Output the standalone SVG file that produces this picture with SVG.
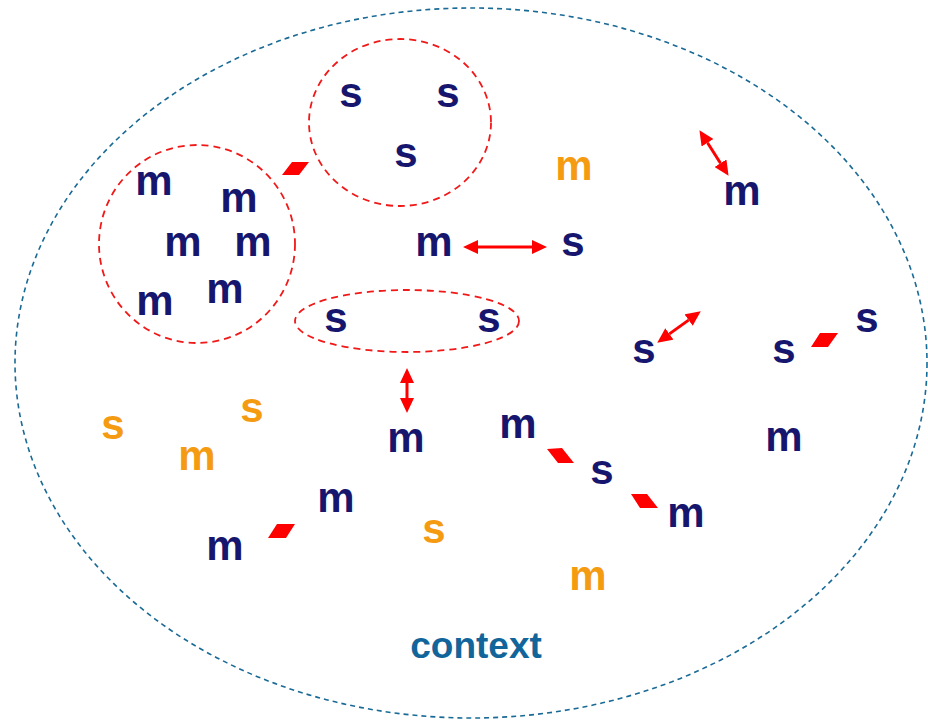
<svg xmlns="http://www.w3.org/2000/svg" width="928" height="720" viewBox="0 0 928 720">
  <style>
    text { font-family: "Liberation Sans", Arial, sans-serif; font-weight: bold; text-anchor: middle; }
    .lbl { font-size: 42px; fill: #16166e; }
    .alt { font-size: 42px; fill: #f59b12; }
    .ctx { font-size: 37px; fill: #11659a; }
    .outer { fill: none; stroke: #1a6a96; stroke-width: 1.6; stroke-dasharray: 5 4; }
    .group { fill: none; stroke: #f01818; stroke-width: 1.8; stroke-dasharray: 7 5; }
    .link { fill: #ff0000; stroke: none; }
    .arrow { stroke: #ff0000; stroke-width: 3; fill: none; marker-start: url(#head); marker-end: url(#head); }
  </style>
  <defs>
    <marker id="head" viewBox="0 0 15 14" refX="0" refY="7" markerWidth="15" markerHeight="14" markerUnits="userSpaceOnUse" orient="auto-start-reverse">
      <path d="M0,0 L15,7 L0,14 Z" fill="#ff0000"/>
    </marker>
  </defs>

  <!-- context boundary -->
  <ellipse class="outer" cx="471" cy="363" rx="456" ry="355"/>

  <!-- groupings -->
  <g id="group-s3">
    <ellipse class="group" cx="400" cy="122.5" rx="91" ry="83.5"/>
  </g>
  <g id="group-m6">
    <ellipse class="group" cx="197" cy="244" rx="98" ry="99"/>
  </g>
  <g id="group-s2">
    <ellipse class="group" cx="407" cy="321" rx="112" ry="31"/>
  </g>

  <!-- connectors -->
  <g id="connectors">
    <polygon class="link" points="282,175 292,162 309,162 299,175"/>
    <polygon class="link" points="811,347 820,333 838,333 828,347"/>
    <polygon class="link" points="547,449 562,448 574,463 558,463"/>
    <polygon class="link" points="631,494 647,494 658,508 640,508"/>
    <polygon class="link" points="268,538 277,524 295,524 286,538"/>
    <line class="arrow" x1="478" y1="247" x2="532" y2="247"/>
    <line class="arrow" x1="407" y1="383" x2="407" y2="398"/>
    <line class="arrow" x1="707.5" y1="142.8" x2="720.5" y2="163.2"/>
    <line class="arrow" x1="669.4" y1="333.9" x2="688.6" y2="320.1"/>
  </g>

  <!-- nodes -->
  <g id="n1"><text class="lbl" x="351" y="107">s</text></g>
  <g id="n2"><text class="lbl" x="448" y="107">s</text></g>
  <g id="n3"><text class="lbl" x="406" y="167">s</text></g>
  <g id="n4"><text class="alt" x="574" y="180">m</text></g>
  <g id="n5"><text class="lbl" x="742" y="205">m</text></g>
  <g id="n6"><text class="lbl" x="154" y="195">m</text></g>
  <g id="n7"><text class="lbl" x="239" y="212">m</text></g>
  <g id="n8"><text class="lbl" x="183" y="256">m</text></g>
  <g id="n9"><text class="lbl" x="253" y="256">m</text></g>
  <g id="n10"><text class="lbl" x="155" y="315">m</text></g>
  <g id="n11"><text class="lbl" x="225" y="303">m</text></g>
  <g id="n12"><text class="lbl" x="434" y="256">m</text></g>
  <g id="n13"><text class="lbl" x="573" y="256">s</text></g>
  <g id="n14"><text class="lbl" x="336" y="332">s</text></g>
  <g id="n15"><text class="lbl" x="489" y="332">s</text></g>
  <g id="n16"><text class="lbl" x="644" y="363">s</text></g>
  <g id="n17"><text class="lbl" x="784" y="363">s</text></g>
  <g id="n18"><text class="lbl" x="867" y="332">s</text></g>
  <g id="n19"><text class="alt" x="113" y="439">s</text></g>
  <g id="n20"><text class="alt" x="197" y="470">m</text></g>
  <g id="n21"><text class="alt" x="252" y="422">s</text></g>
  <g id="n22"><text class="lbl" x="406" y="452">m</text></g>
  <g id="n23"><text class="lbl" x="518" y="438">m</text></g>
  <g id="n24"><text class="lbl" x="602" y="484">s</text></g>
  <g id="n25"><text class="lbl" x="686" y="527">m</text></g>
  <g id="n26"><text class="lbl" x="784" y="451">m</text></g>
  <g id="n27"><text class="lbl" x="336" y="512">m</text></g>
  <g id="n28"><text class="lbl" x="225" y="560">m</text></g>
  <g id="n29"><text class="alt" x="434" y="543">s</text></g>
  <g id="n30"><text class="alt" x="588" y="590">m</text></g>
  <g id="context"><text class="ctx" x="476" y="658">context</text></g>
</svg>
